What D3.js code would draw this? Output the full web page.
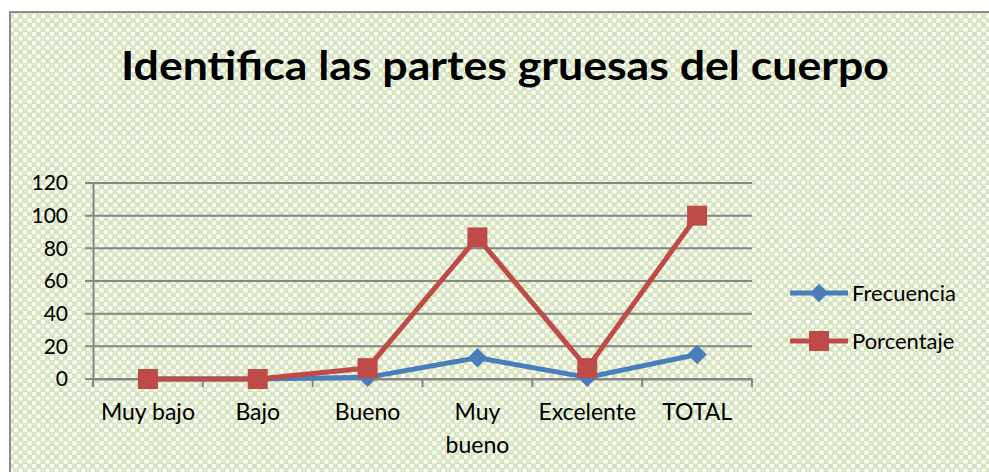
<!DOCTYPE html>
<html lang="es">
<head>
  <meta charset="UTF-8">
  <title>Identifica las partes gruesas del cuerpo</title>
  <style>
    html, body { margin: 0; padding: 0; background: #fff; }
    #main { width: 989px; height: 472px; }
  </style>
</head>
<body>
  <div id="main"></div>
  <script src="https://cdn.jsdelivr.net/npm/d3@7"></script>
  <script>
    // datos
    const categories = ['Muy bajo', 'Bajo', 'Bueno', 'Muy bueno', 'Excelente', 'TOTAL']
    const frecuencia = [0, 0, 1, 13, 1, 15]
    const porcentaje = [0, 0, 6.67, 86.67, 6.67, 100]
    const yTicks = [0, 20, 40, 60, 80, 100, 120]
    const seriesNames = ['Frecuencia', 'Porcentaje']

    const [width, height] = [989, 472]
    const font = 'Lato, "Open Sans", sans-serif'

    const svg = d3.select('#main').append('svg')
      .attr('width', width)
      .attr('height', height)
      .attr('viewBox', `0 0 ${width} ${height}`)

    // fondo con trama verde
    const defs = svg.append('defs')
    const pat = defs.append('pattern')
      .attr('id', 'trama')
      .attr('patternUnits', 'userSpaceOnUse')
      .attr('width', 9).attr('height', 9)
    pat.append('rect').attr('width', 9).attr('height', 9).attr('fill', '#d5e3bb')
    pat.append('rect').attr('x', 0.5).attr('y', 0.5).attr('width', 4).attr('height', 4).attr('fill', '#fdfefb')
    pat.append('rect').attr('x', 5).attr('y', 5).attr('width', 4).attr('height', 4).attr('fill', '#fdfefb')
    pat.append('rect').attr('x', 6).attr('y', 1.5).attr('width', 2).attr('height', 1).attr('fill', '#eef4e4')

    svg.append('rect')
      .attr('x', 10).attr('y', 12)
      .attr('width', width).attr('height', height)
      .attr('fill', 'url(#trama)')
      .attr('stroke', '#8c8c8c')
      .attr('stroke-width', 2)

    // titulo
    svg.append('text')
      .attr('x', 505).attr('y', 80)
      .attr('text-anchor', 'middle')
      .attr('font-family', font)
      .attr('font-weight', 'bold')
      .attr('font-size', 40)
      .attr('textLength', 768)
      .attr('lengthAdjust', 'spacingAndGlyphs')
      .attr('fill', '#000')
      .text('Identifica las partes gruesas del cuerpo')

    // escalas
    const x = d3.scaleBand().domain(categories).range([93, 752])
    const y = d3.scaleLinear().domain([0, 120]).range([379, 183])
    const cx = d => x(d) + x.bandwidth() / 2

    // rejilla
    svg.append('g')
      .selectAll('line')
      .data(yTicks)
      .join('line')
      .attr('x1', 85).attr('x2', 752)
      .attr('y1', d => y(d)).attr('y2', d => y(d))
      .attr('stroke', '#868686')
      .attr('stroke-width', 2)

    // eje y
    const yAxis = svg.append('g')
      .attr('transform', 'translate(93,0)')
      .call(d3.axisLeft(y).tickValues(yTicks).tickSize(0).tickPadding(25))
    yAxis.select('.domain').attr('stroke', '#868686').attr('stroke-width', 2)
    yAxis.selectAll('text')
      .attr('font-family', font)
      .attr('font-size', 21)
      .attr('fill', '#000')

    // eje x
    const xAxis = svg.append('g')
      .attr('transform', `translate(0,${y(0)})`)
      .call(d3.axisBottom(x).tickSize(0).tickPadding(25))
    xAxis.select('.domain').attr('stroke', '#868686').attr('stroke-width', 2)
    xAxis.selectAll('.tick').each(function (d) {
      const t = d3.select(this).select('text')
      t.attr('font-family', font).attr('font-size', 23).attr('fill', '#000')
      if (d === 'Muy bueno') {
        t.text(null)
        t.append('tspan').attr('x', 0).attr('dy', '0.71em').text('Muy')
        t.append('tspan').attr('x', 0).attr('dy', '1.4em').text('bueno')
        t.attr('dy', null)
      }
    })
    // marcas del eje x entre categorias
    svg.append('g')
      .selectAll('line')
      .data(categories.concat(['end']))
      .join('line')
      .attr('x1', (d, i) => i < categories.length ? x(d) : x.range()[1])
      .attr('x2', (d, i) => i < categories.length ? x(d) : x.range()[1])
      .attr('y1', y(0)).attr('y2', y(0) + 8)
      .attr('stroke', '#868686')
      .attr('stroke-width', 2)

    // lineas
    const line = d3.line().x((d, i) => cx(categories[i])).y(d => y(d))
    const colors = ['#4a7ebb', '#be4b48']

    svg.append('path')
      .datum(frecuencia)
      .attr('d', line)
      .attr('fill', 'none')
      .attr('stroke', colors[0])
      .attr('stroke-width', 5)
      .attr('stroke-linejoin', 'round')

    svg.append('g')
      .selectAll('path')
      .data(frecuencia)
      .join('path')
      .attr('d', d3.symbol(d3.symbolSquare, 190))
      .attr('transform', (d, i) => `translate(${cx(categories[i])},${y(d)}) rotate(45)`)
      .attr('fill', colors[0])

    svg.append('path')
      .datum(porcentaje)
      .attr('d', line)
      .attr('fill', 'none')
      .attr('stroke', colors[1])
      .attr('stroke-width', 5)
      .attr('stroke-linejoin', 'round')

    svg.append('g')
      .selectAll('rect')
      .data(porcentaje)
      .join('rect')
      .attr('x', (d, i) => cx(categories[i]) - 10)
      .attr('y', d => y(d) - 10)
      .attr('width', 20).attr('height', 20)
      .attr('fill', colors[1])

    // leyenda
    const legend = svg.append('g')
    seriesNames.forEach((name, i) => {
      const ly = 293 + i * 48
      legend.append('line')
        .attr('x1', 790).attr('x2', 848)
        .attr('y1', ly).attr('y2', ly)
        .attr('stroke', colors[i])
        .attr('stroke-width', 5)
      if (i === 0) {
        legend.append('path')
          .attr('d', d3.symbol(d3.symbolSquare, 170))
          .attr('transform', `translate(819,${ly}) rotate(45)`)
          .attr('fill', colors[i])
      } else {
        legend.append('rect')
          .attr('x', 809).attr('y', ly - 10)
          .attr('width', 20).attr('height', 20)
          .attr('fill', colors[i])
      }
      legend.append('text')
        .attr('x', 852).attr('y', ly)
        .attr('dy', '0.35em')
        .attr('font-family', font)
        .attr('font-size', 22)
        .attr('fill', '#000')
        .text(name)
    })
  </script>
</body>
</html>
